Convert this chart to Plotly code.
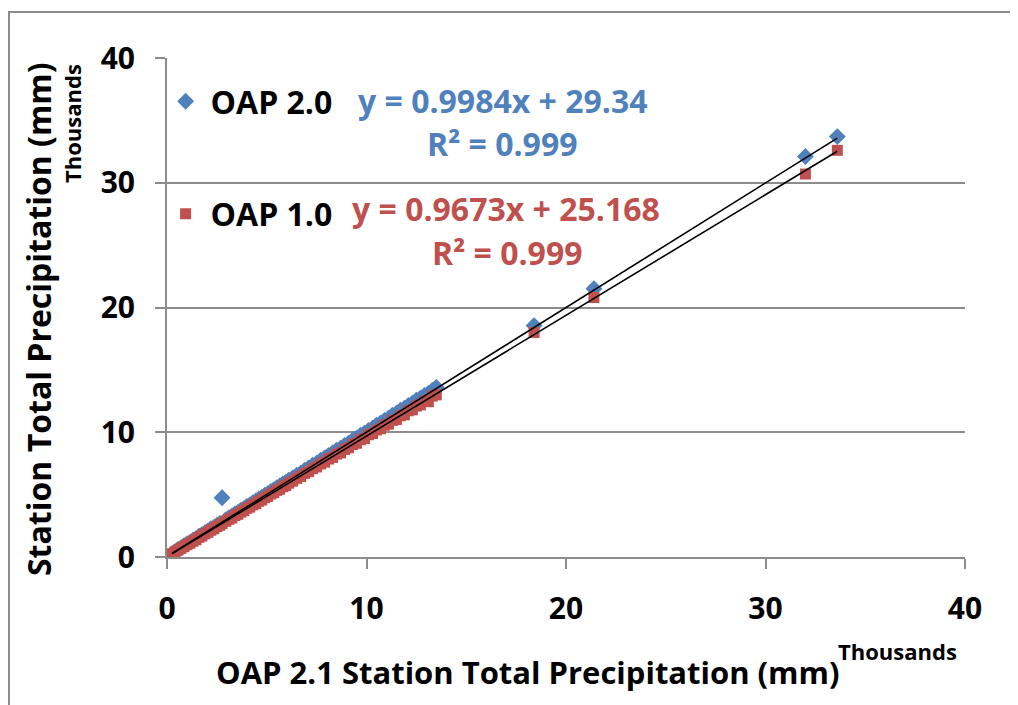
import plotly.graph_objects as go

# ---- data (thousands of mm) ----
x_oap21 = [0.25, 0.4, 0.55, 0.7, 0.85, 1.0, 1.15, 1.3, 1.45, 1.6, 1.75, 1.9, 2.05, 2.2, 2.35,
           2.5, 2.65, 2.76, 2.95, 3.1, 3.25, 3.4, 3.55, 3.7, 3.85, 4.0, 4.15, 4.3, 4.45, 4.6,
           4.75, 4.9, 5.05, 5.2, 5.35, 5.5, 5.65, 5.8, 5.95, 6.1, 6.3, 6.5, 6.7, 6.9, 7.1,
           7.3, 7.5, 7.7, 7.9, 8.1, 8.3, 8.5, 8.7, 8.9, 9.1, 9.3, 9.5, 9.7, 9.9, 10.1,
           10.3, 10.5, 10.7, 10.9, 11.1, 11.3, 11.5, 11.7, 11.9, 12.1, 12.3, 12.5, 12.7, 12.9, 13.1,
           13.3, 13.5, 18.4, 21.4, 32.0, 33.6]
y_oap20 = [0.27, 0.43, 0.6, 0.72, 0.9, 1.04, 1.17, 1.35, 1.47, 1.66, 1.78, 1.95, 2.08, 2.26, 2.37,
           2.55, 2.69, 4.75, 2.99, 3.15, 3.27, 3.46, 3.58, 3.76, 3.87, 4.06, 4.18, 4.35, 4.49, 4.66,
           4.78, 4.96, 5.08, 5.26, 5.38, 5.56, 5.69, 5.86, 5.98, 6.16, 6.33, 6.56, 6.72, 6.95, 7.13,
           7.36, 7.52, 7.76, 7.93, 8.15, 8.34, 8.56, 8.72, 8.95, 9.12, 9.36, 9.52, 9.76, 9.93, 10.15,
           10.33, 10.56, 10.72, 10.95, 11.12, 11.36, 11.52, 11.76, 11.93, 12.15, 12.32, 12.56, 12.72, 12.95, 13.12,
           13.36, 13.6, 18.55, 21.5, 32.1, 33.7]
y_oap10 = [0.26, 0.41, 0.55, 0.7, 0.83, 0.99, 1.1, 1.27, 1.38, 1.57, 1.68, 1.86, 1.98, 2.15, 2.26,
           2.44, 2.55, 2.68, 2.86, 3.02, 3.12, 3.32, 3.42, 3.6, 3.71, 3.9, 4.0, 4.18, 4.28, 4.47,
           4.57, 4.76, 4.86, 5.05, 5.15, 5.34, 5.43, 5.63, 5.72, 5.92, 6.08, 6.3, 6.45, 6.7, 6.84,
           7.08, 7.22, 7.46, 7.6, 7.85, 7.98, 8.25, 8.35, 8.62, 8.75, 9.02, 9.12, 9.4, 9.5, 9.8,
           9.9, 10.18, 10.28, 10.56, 10.65, 10.95, 11.02, 11.32, 11.4, 11.72, 11.8, 12.1, 12.2, 12.5, 12.45,
           12.9, 13.0, 18.0, 20.8, 30.7, 32.6]

fit_oap20 = (0.9984, 0.02934)   # slope, intercept (thousands)
fit_oap10 = (0.9673, 0.025168)

x_ticks = [0, 10, 20, 30, 40]
y_ticks = [0, 10, 20, 30, 40]

BLUE = "#4F81BD"
RED = "#C0504D"
GRID = "#8C8C8C"
FONT = "Open Sans"

x_lo, x_hi = min(x_oap21), max(x_oap21)

fig = go.Figure()
fig.add_trace(go.Scatter(
    x=x_oap21, y=y_oap20, mode="markers", name="OAP 2.0", legendgroup="a",
    marker=dict(symbol="diamond", size=13, color=BLUE, line=dict(width=0))))
fig.add_trace(go.Scatter(
    x=x_oap21, y=y_oap10, mode="markers", name="OAP 1.0", legendgroup="b",
    marker=dict(symbol="square", size=11, color=RED, line=dict(width=0))))
for (m, b) in (fit_oap20, fit_oap10):
    fig.add_trace(go.Scatter(
        x=[x_lo, x_hi], y=[m * x_lo + b, m * x_hi + b], mode="lines",
        line=dict(color="black", width=1.6), showlegend=False, hoverinfo="skip"))

# page body has an 8px margin: plot area lands at x 167..965, y 58..557
fig.update_layout(
    width=1010, height=697,
    margin=dict(l=159, r=53, t=50, b=148),
    paper_bgcolor="white", plot_bgcolor="white",
    font=dict(family=FONT, size=29, color="black", weight="bold"),
    showlegend=True,
    legend=dict(x=-0.008, y=0.968, xanchor="left", yanchor="top",
                bgcolor="rgba(0,0,0,0)", font=dict(size=32, weight="bold", family=FONT),
                tracegroupgap=68, itemsizing="trace", itemwidth=40),
    xaxis=dict(range=[0, 40], tickvals=x_ticks, ticktext=[str(v) for v in x_ticks],
               showgrid=False, zeroline=False, showline=True, linecolor=GRID, linewidth=2,
               ticks="outside", ticklen=10, tickcolor=GRID, tickwidth=2,
               ticklabelstandoff=14, tickfont=dict(size=30, weight="bold", family=FONT)),
    yaxis=dict(range=[0, 40], tickvals=y_ticks, ticktext=[str(v) for v in y_ticks],
               showgrid=True, gridcolor=GRID, gridwidth=2, zeroline=False,
               showline=True, linecolor=GRID, linewidth=2,
               ticks="outside", ticklen=10, tickcolor=GRID, tickwidth=2,
               ticklabelstandoff=14, tickfont=dict(size=30, weight="bold", family=FONT)),
)

ann = [
    dict(text="OAP 2.1 Station Total Precipitation (mm)", x=(528 - 167) / 798, y=(557 - 672) / 499,
         font=dict(size=31)),
    dict(text="Thousands", x=(897 - 167) / 798, y=(557 - 651) / 499, font=dict(size=22)),
    dict(text="Station Total Precipitation (mm)", x=(38 - 167) / 798, y=(557 - 319) / 499,
         textangle=-90, font=dict(size=32)),
    dict(text="Thousands", x=(72 - 167) / 798, y=(557 - 124) / 499, textangle=-90,
         font=dict(size=22)),
    dict(text="y = 0.9984x + 29.34", x=(502 - 167) / 798, y=(557 - 101) / 499,
         font=dict(size=32, color=BLUE)),
    dict(text="R² = 0.999", x=(502 - 167) / 798, y=(557 - 144) / 499,
         font=dict(size=32, color=BLUE)),
    dict(text="y = 0.9673x + 25.168", x=(506 - 167) / 798, y=(557 - 209) / 499,
         font=dict(size=32, color=RED)),
    dict(text="R² = 0.999", x=(507 - 167) / 798, y=(557 - 252) / 499,
         font=dict(size=32, color=RED)),
]
for a in ann:
    a.update(xref="paper", yref="paper", showarrow=False, xanchor="center", yanchor="middle")
    a["font"].setdefault("family", FONT)
    a["font"].setdefault("color", "black")
    a["font"]["weight"] = "bold"
    fig.add_annotation(**a)

# chart-area border (extends off the right and bottom of the picture)
fig.add_shape(type="rect", xref="paper", yref="paper",
              x0=(9 - 167) / 798, x1=(1040 - 167) / 798,
              y0=(557 - 730) / 499, y1=(557 - 12) / 499,
              line=dict(color=GRID, width=2), fillcolor="rgba(0,0,0,0)", layer="below")

fig.write_html("out.html")
